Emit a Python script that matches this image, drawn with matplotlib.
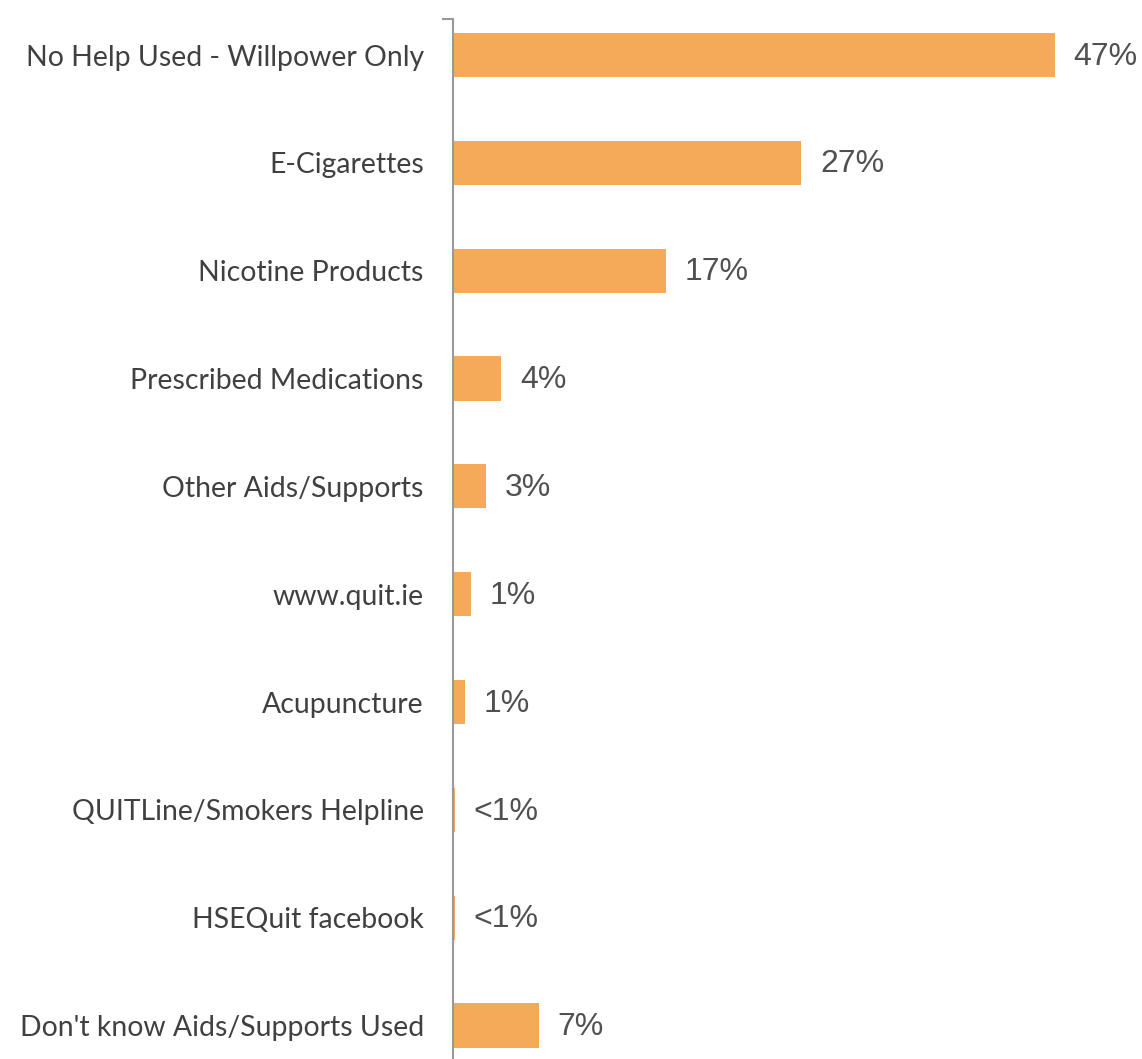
import matplotlib
matplotlib.use("Agg")
import matplotlib.pyplot as plt
from matplotlib.ticker import FixedLocator

# Aids/supports used when quitting (% of respondents)
categories = [
    "No Help Used - Willpower Only",
    "E-Cigarettes",
    "Nicotine Products",
    "Prescribed Medications",
    "Other Aids/Supports",
    "www.quit.ie",
    "Acupuncture",
    "QUITLine/Smokers Helpline",
    "HSEQuit facebook",
    "Don't know Aids/Supports Used",
]
values = [47.0, 27.2, 16.6, 3.75, 2.6, 1.4, 0.95, 0.15, 0.15, 6.7]


def pct_label(v):
    return "<1%" if v < 0.5 else f"{round(v)}%"


W, H = 1142, 1059
fig = plt.figure(figsize=(W / 100, H / 100), dpi=100)
ax_left, ax_right = 453, 1142
ax_top, ax_bottom = 19, 1059
ax = fig.add_axes([ax_left / W, 1 - ax_bottom / H,
                   (ax_right - ax_left) / W, (ax_bottom - ax_top) / H])

bar_color = "#F5AA5A"
pos = list(range(len(categories)))
ax.barh(pos, values, height=0.41, color=bar_color, zorder=2)

ax.set_ylim(9.31, -0.334)
ax.set_xlim(0, 53.8)

for p, v in zip(pos, values):
    ax.annotate(pct_label(v), xy=(v, p + 0.015), xytext=(13.5, 0),
                textcoords="offset points", ha="left", va="center",
                fontsize=23, color="#505050", family="Liberation Sans")

ax.set_yticks(pos)
ax.set_yticklabels(categories, fontsize=20.4, color="#404040", family="Lato")
ax.tick_params(axis="y", which="major", length=0, pad=21)
ax.yaxis.set_minor_locator(FixedLocator([-0.334]))
ax.tick_params(axis="y", which="minor", length=8, width=1.5, color="#999999")
ax.set_xticks([])

for s in ("top", "right", "bottom"):
    ax.spines[s].set_visible(False)
ax.spines["left"].set_color("#999999")
ax.spines["left"].set_linewidth(1.5)

fig.savefig("out.png", dpi=100, facecolor="white")
